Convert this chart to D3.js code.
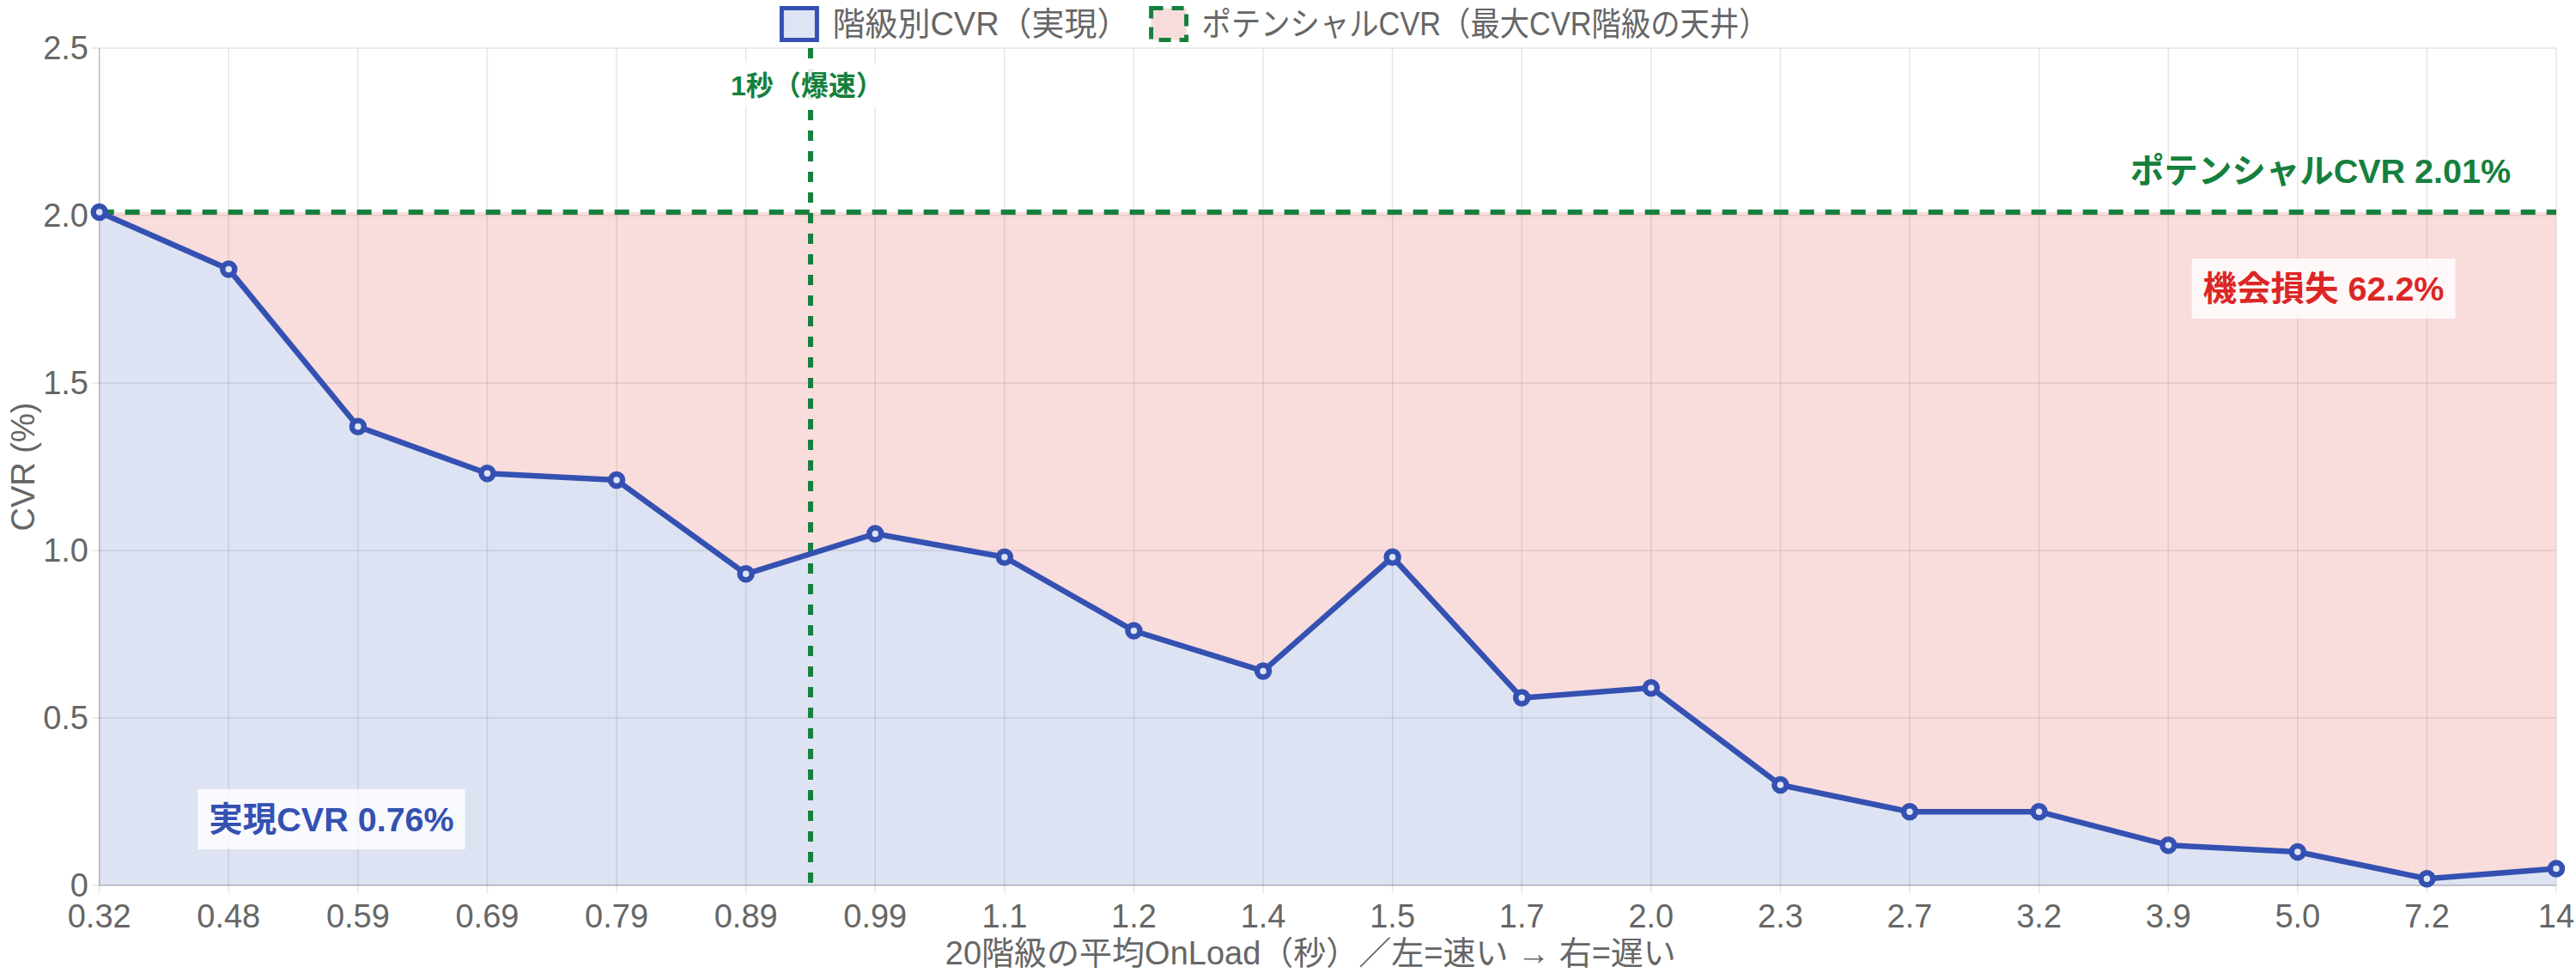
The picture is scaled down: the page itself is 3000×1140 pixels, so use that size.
<!DOCTYPE html>
<html><head><meta charset="utf-8">
<script src="https://cdn.jsdelivr.net/npm/d3@7"></script>
<style>
html,body{margin:0;padding:0;background:#fff;}
svg{display:block;}
text{font-family:"Liberation Sans","Noto Sans CJK JP",Arial,sans-serif;}
</style></head>
<body>
<svg id="c" width="3000" height="1140"></svg>
<script>
const categories = ["0.32","0.48","0.59","0.69","0.79","0.89","0.99","1.1","1.2","1.4","1.5","1.7","2.0","2.3","2.7","3.2","3.9","5.0","7.2","14"];
const cvr = [2.01,1.84,1.37,1.23,1.21,0.93,1.05,0.98,0.76,0.64,0.98,0.56,0.59,0.30,0.22,0.22,0.12,0.10,0.02,0.05];
const potential = 2.01;
const realizedAvg = 0.76;
const lossPct = 62.2;
const yTicks = [0,0.5,1.0,1.5,2.0,2.5];
const yTickLabels = ["0","0.5","1.0","1.5","2.0","2.5"];
const legendLabels = ["階級別CVR（実現）","ポテンシャルCVR（最大CVR階級の天井）"];
const thresholdBetween = ["0.89","0.99"];
const thresholdLabel = "1秒（爆速）";
const xTitle = "20階級の平均OnLoad（秒）／左=速い → 右=遅い";
const yTitle = "CVR (%)";

const BLUE="#3451b2", GREEN="#15803d", RED="#dc2626", GREY="#666";
const L=115.7, R=2977, T=56, B=1031;
const FS=38;
const svg=d3.select("#c");
const x=d3.scalePoint().domain(categories).range([L,R]);
const y=d3.scaleLinear().domain([0,2.5]).range([B,T]);

// grid
const g=svg.append("g");
g.selectAll(".vg").data(categories).join("line")
 .attr("x1",d=>x(d)).attr("x2",d=>x(d)).attr("y1",T).attr("y2",B+9)
 .attr("stroke","rgba(0,0,0,0.1)").attr("stroke-width",1.5);
g.selectAll(".hg").data(yTicks).join("line")
 .attr("x1",L-9).attr("x2",R).attr("y1",d=>y(d)).attr("y2",d=>y(d))
 .attr("stroke","rgba(0,0,0,0.1)").attr("stroke-width",1.5);

// fills
const idx=d3.range(categories.length);
svg.append("path").datum(idx)
 .attr("d",d3.area().x(i=>x(categories[i])).y0(()=>y(potential)).y1(i=>y(cvr[i])))
 .attr("fill","rgba(220,38,38,0.16)");
svg.append("path").datum(idx)
 .attr("d",d3.area().x(i=>x(categories[i])).y0(()=>y(0)).y1(i=>y(cvr[i])))
 .attr("fill","rgba(52,81,178,0.16)");

// axis lines
svg.append("line").attr("x1",L).attr("x2",L).attr("y1",T).attr("y2",B).attr("stroke","rgba(0,0,0,0.18)").attr("stroke-width",1.5);
svg.append("line").attr("x1",L).attr("x2",R).attr("y1",B).attr("y2",B).attr("stroke","rgba(0,0,0,0.18)").attr("stroke-width",1.5);

// tick labels
svg.selectAll(".yl").data(yTicks).join("text")
 .attr("x",103).attr("y",d=>y(d)).attr("dy","0.35em").attr("text-anchor","end")
 .attr("font-size",FS).attr("fill",GREY).text((d,i)=>yTickLabels[i]);
svg.selectAll(".xl").data(categories).join("text")
 .attr("x",d=>x(d)).attr("y",1067).attr("dy","0.35em").attr("text-anchor","middle")
 .attr("font-size",FS).attr("fill",GREY).text(d=>d);
svg.append("text").attr("x",(L+R)/2-20).attr("y",1110).attr("dy","0.35em").attr("text-anchor","middle")
 .attr("font-size",FS).attr("fill",GREY).text(xTitle);
svg.append("text").attr("transform",`translate(27,${(T+B)/2}) rotate(-90)`).attr("dy","0.35em").attr("text-anchor","middle")
 .attr("font-size",FS).attr("fill",GREY).text(yTitle);

// potential line
svg.append("line").attr("x1",L).attr("x2",R).attr("y1",y(potential)).attr("y2",y(potential))
 .attr("stroke",GREEN).attr("stroke-width",6).attr("stroke-dasharray","17,13");

// threshold vertical line
const tx=(x(thresholdBetween[0])+x(thresholdBetween[1]))/2;
svg.append("line").attr("x1",tx).attr("x2",tx).attr("y1",T).attr("y2",B)
 .attr("stroke",GREEN).attr("stroke-width",6).attr("stroke-dasharray","12,12");
svg.append("rect").attr("x",tx-100).attr("y",73).attr("width",200).attr("height",52).attr("fill","rgba(255,255,255,0.88)");
svg.append("text").attr("x",tx-4).attr("y",100).attr("dy","0.35em").attr("text-anchor","middle")
 .attr("font-size",32).attr("font-weight","bold").attr("fill",GREEN).text(thresholdLabel);

// line + points
svg.append("path").datum(idx)
 .attr("d",d3.line().x(i=>x(categories[i])).y(i=>y(cvr[i])))
 .attr("fill","none").attr("stroke",BLUE).attr("stroke-width",6.5).attr("stroke-linejoin","round");
svg.selectAll(".pt").data(idx).join("circle")
 .attr("cx",i=>x(categories[i])).attr("cy",i=>y(cvr[i])).attr("r",7)
 .attr("fill","#dfe4f4").attr("stroke",BLUE).attr("stroke-width",6.5);

// annotations
svg.append("text").attr("x",2924).attr("y",199).attr("dy","0.35em").attr("text-anchor","end")
 .attr("font-size",39.5).attr("font-weight","bold").attr("fill",GREEN).text(`ポテンシャルCVR ${potential.toFixed(2)}%`);

function boxLabel(cx,cy,txt,color,bg){
  const gg=svg.append("g");
  const r=gg.append("rect").attr("fill",bg);
  const t=gg.append("text").attr("x",cx).attr("y",cy).attr("dy","0.35em").attr("text-anchor","middle")
   .attr("font-size",39.5).attr("font-weight","bold").attr("fill",color).text(txt);
  const w=t.node().getComputedTextLength()+26;
  r.attr("x",cx-w/2).attr("y",cy-35).attr("width",w).attr("height",70);
}
boxLabel(2706,336,`機会損失 ${lossPct.toFixed(1)}%`,RED,"rgba(255,255,255,0.8)");
boxLabel(386,954,`実現CVR ${realizedAvg.toFixed(2)}%`,BLUE,"rgba(255,255,255,0.8)");

// legend
const lg=svg.append("g");
const cy=28;
const t1=lg.append("text").attr("y",cy).attr("dy","0.35em").attr("font-size",FS).attr("fill",GREY).text(legendLabels[0]);
const t2=lg.append("text").attr("y",cy).attr("dy","0.35em").attr("font-size",FS).attr("fill",GREY).text(legendLabels[1]);
const w1=t1.node().getComputedTextLength();
let w2=t2.node().getComputedTextLength();
if (w2>660){ t2.attr("textLength",660).attr("lengthAdjust","spacingAndGlyphs"); w2=660; }
const boxW=41, boxH=37, gap=18, sep=25;
const total=boxW+gap+w1+sep+boxW+gap+w2;
let lx=1485-total/2;
lg.append("rect").attr("x",lx).attr("y",cy-boxH/2).attr("width",boxW).attr("height",boxH)
 .attr("fill","#dfe4f4").attr("stroke",BLUE).attr("stroke-width",5);
t1.attr("x",lx+boxW+gap);
lx+=boxW+gap+w1+sep;
lg.append("rect").attr("x",lx).attr("y",cy-boxH/2).attr("width",boxW).attr("height",boxH)
 .attr("fill","#f8dcdc").attr("stroke",GREEN).attr("stroke-width",5).attr("stroke-dasharray","14,10");
t2.attr("x",lx+boxW+gap);
</script>
</body></html>
